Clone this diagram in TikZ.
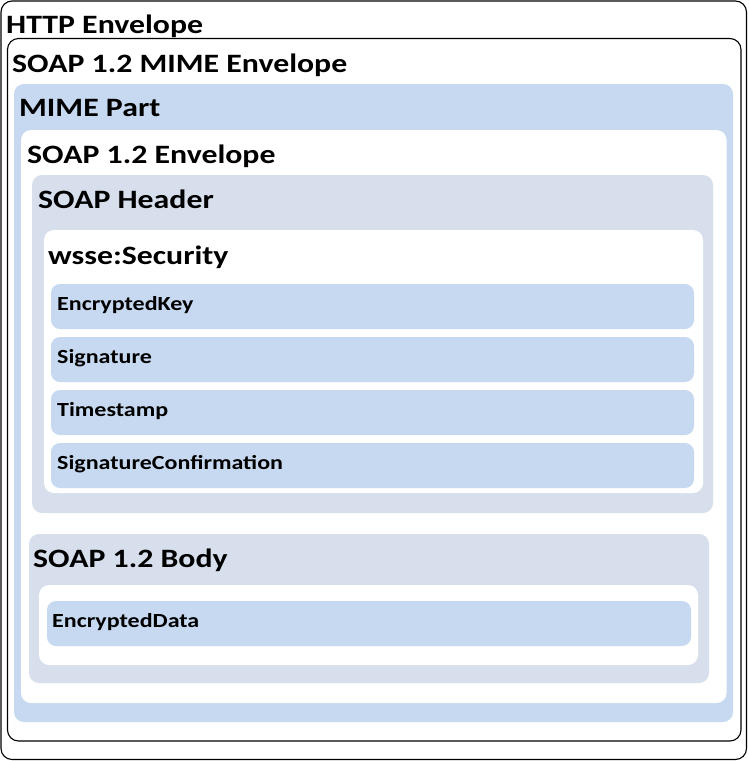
\documentclass[tikz,border=0pt]{standalone}
\usepackage{fontspec}
\setmainfont{Carlito}[FakeStretch=1.2]
\definecolor{partblue}{HTML}{C6D9F0}
\definecolor{hdrgrey}{HTML}{D6DFEB}
\begin{document}
\begin{tikzpicture}[x=1pt,y=-1pt,
  outline/.style={draw=black,line width=1.1pt,rounded corners=11pt,fill=white},
  bluebox/.style={fill=partblue,rounded corners=10pt},
  greybox/.style={fill=hdrgrey,rounded corners=10pt},
  whitebox/.style={fill=white,rounded corners=10pt},
  itembox/.style={fill=partblue,rounded corners=9pt},
  bigtitle/.style={anchor=base west,inner sep=0pt,font=\fontsize{26.5}{30}\selectfont\bfseries},
  itemlabel/.style={anchor=base west,inner sep=0pt,font=\fontsize{20}{24}\selectfont\bfseries}]
\useasboundingbox (0,0) rectangle (748,761);
\fill[white] (0,0) rectangle (748,761);
% HTTP envelope
\draw[outline] (1,1) rectangle (746.5,759.5);
\node[bigtitle] (http) at (6,33) {HTTP Envelope};
% SOAP MIME envelope
\draw[outline] (7.5,38.5) rectangle (741,741);
\node[bigtitle] (mimeenv) at (12,72) {SOAP 1.2 MIME Envelope};
% MIME part
\fill[bluebox] (14,84) rectangle (733,722);
\node[bigtitle] (mimepart) at (19,116) {MIME Part};
% SOAP envelope
\fill[whitebox] (21,130) rectangle (726.5,703);
\node[bigtitle] (soapenv) at (27,163) {SOAP 1.2 Envelope};
% SOAP header
\fill[greybox] (32,175) rectangle (713,513);
\node[bigtitle] (soaphdr) at (38,208) {SOAP Header};
% wsse:Security
\fill[whitebox] (44,230) rectangle (703,493);
\node[bigtitle] (wsse) at (48,264) {wsse:Security};
% items
\fill[itembox] (51,284) rectangle (694,329);
\node[itemlabel] (enckey) at (57,310) {EncryptedKey};
\fill[itembox] (51,337) rectangle (694,382);
\node[itemlabel] (sig) at (57,363) {Signature};
\fill[itembox] (51,390) rectangle (694,435);
\node[itemlabel] (ts) at (57,416) {Timestamp};
\fill[itembox] (51,443) rectangle (694,488);
\node[itemlabel] (sigconf) at (57,469) {SignatureConfirmation};
% SOAP body
\fill[greybox] (29,534) rectangle (709,683);
\node[bigtitle] (body) at (33,567) {SOAP 1.2 Body};
\fill[whitebox] (39,585) rectangle (698,665);
\fill[itembox] (47,601) rectangle (691,646);
\node[itemlabel] (encdata) at (52,627) {EncryptedData};
\end{tikzpicture}
\end{document}
